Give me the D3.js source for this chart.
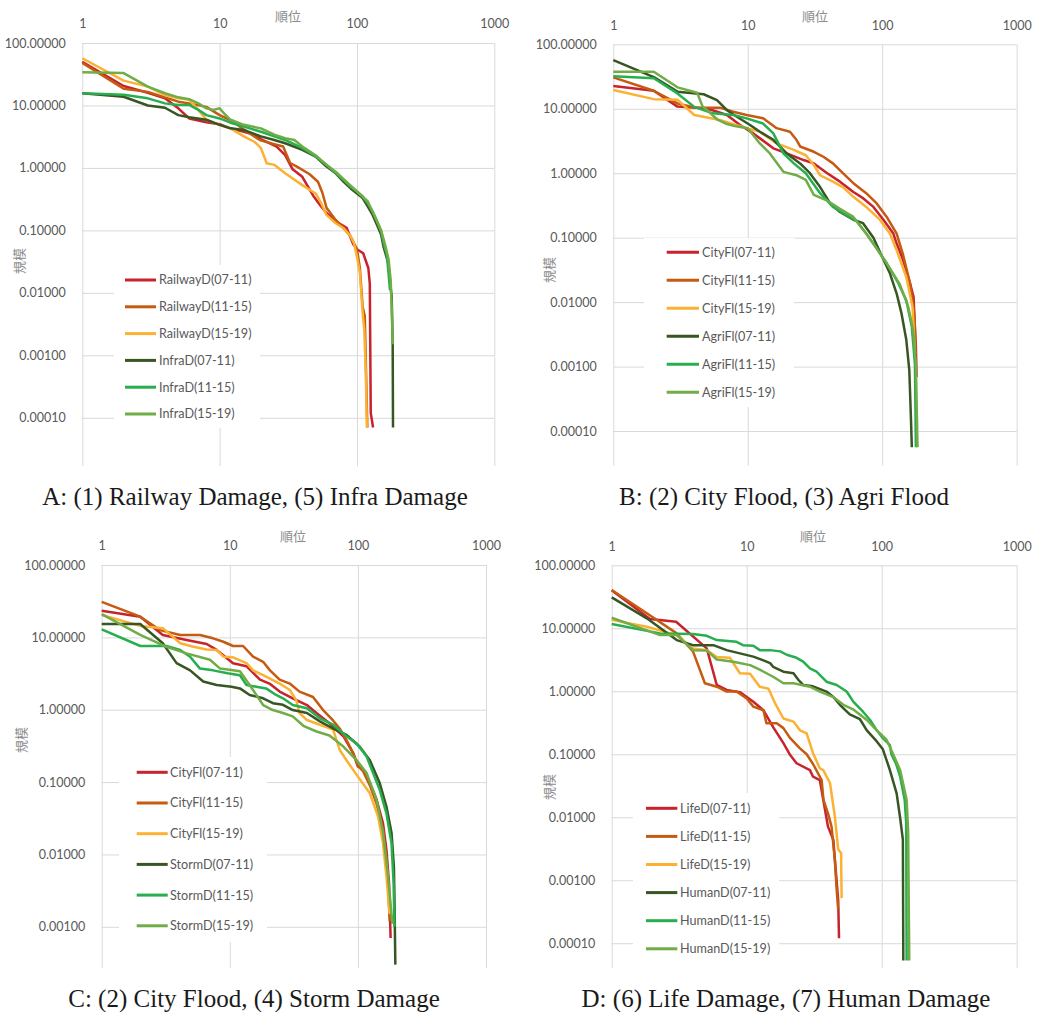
<!DOCTYPE html>
<html>
<head>
<meta charset="utf-8">
<script src="https://cdn.jsdelivr.net/npm/d3@7"></script>
<style>
body { margin: 0; background: #fff; }
svg text { font-family: Lato, "Noto Sans", sans-serif; }
</style>
</head>
<body>
<svg id="chart" width="1039" height="1012"></svg>
<script>
// rank-size curves, [rank, size] pairs

// A: railway / infra damage
var railwayD0711 = [[1,50],[2,20.5],[3,16],[4,13],[5,9],[6,6.2],[8,5.4],[10,5],[12,4.3],[15,3.8],[18,3.4],[20,2.9],[26,2.2],[30,1.6],[34,0.95],[40,0.72],[48,0.36],[55,0.24],[60,0.19],[70,0.14],[84,0.11],[94,0.06],[100,0.05],[111,0.043],[121,0.025],[124,0.014],[126,0.00012],[131,0.00007]];
var railwayD1115 = [[1,48],[2,18.5],[3,16.5],[4,13.5],[5,11.5],[6,10.8],[8,9.5],[10,7],[12.6,5.5],[15,4.1],[19.6,2.8],[25,2.4],[29,2.2],[32.6,1.2],[36.5,1.05],[45,0.8],[52,0.6],[56,0.4],[60,0.23],[70,0.147],[80,0.108],[90,0.08],[100,0.05],[105,0.025],[110,0.006],[114,0.0042],[119,0.00007]];
var railwayD1519 = [[1,57],[2,25],[3,20],[4,14.7],[5,13],[6,12.3],[7,8.5],[8,5.9],[10,4.9],[12,4.3],[15,3.2],[18,2.6],[20,2.07],[22,1.19],[25,1.12],[30,0.82],[40,0.53],[50,0.39],[55,0.27],[60,0.177],[70,0.13],[80,0.108],[90,0.08],[95,0.063],[100,0.038],[105,0.021],[110,0.0047],[113,0.0026],[116,0.00052],[118,0.00007]];
var infraD0711 = [[1,15.7],[2,13.8],[3,10],[4,9.2],[5,7],[6,6.5],[8,5.9],[10,4.9],[12,4.3],[15,4.06],[20,3.2],[25,2.8],[30,2.48],[40,1.94],[50,1.52],[60,1.05],[70,0.82],[80,0.6],[90,0.47],[100,0.39],[110,0.33],[120,0.24],[130,0.177],[140,0.122],[150,0.085],[156,0.055],[169,0.03],[176,0.012],[179,0.0087],[182,0.0015],[183,0.00007]];
var infraD1115 = [[1,15.7],[2,14.8],[3,13],[4,10.8],[5,10.2],[6,10.2],[7,8.5],[8,7],[10,6.2],[12,5.3],[15,4.6],[20,3.8],[25,3.2],[30,2.8],[40,2.07],[50,1.52],[60,1.12],[70,0.82],[80,0.64],[90,0.5],[100,0.42],[110,0.35],[120,0.27],[130,0.2],[140,0.14],[150,0.096],[156,0.065],[165,0.04],[170,0.02],[174,0.011]];
var infraD1519 = [[1,34],[2,33],[3,20],[4,15.7],[5,13.5],[6,12.6],[7,10.8],[8,9],[9,8.5],[10,9],[11,7.1],[12,5.9],[15,4.9],[20,4.3],[25,3.4],[30,3],[35,2.8],[40,2.2],[50,1.6],[60,1.12],[70,0.87],[80,0.66],[90,0.52],[100,0.42],[120,0.29],[140,0.14],[150,0.1],[160,0.06],[170,0.034],[176,0.016],[179,0.006],[182,0.0015]];

// B: city flood / agri flood
var cityFlB0711 = [[1,22.6],[2,19],[3,10.8],[5,10.1],[7,8],[8.75,5.6],[11,4.15],[15.5,2.43],[19.5,2.03],[26,1.6],[31,1.42],[39,1],[48.5,0.74],[61,0.51],[72,0.41],[86,0.3],[102,0.19],[121,0.116],[128,0.081],[143,0.045],[161,0.0195],[171,0.012],[174,0.0052],[178,0.002],[180,0.00069]];
var cityFlB1115 = [[1,30.7],[2,19],[3,12.1],[4,10.5],[6.2,10.4],[7.8,9],[9.8,8],[13,7.1],[16.4,5],[20.6,4.4],[23,3.3],[24.5,2.6],[31,2.15],[36.5,1.8],[43,1.42],[51,1],[61,0.7],[76,0.49],[91,0.34],[108,0.21],[128,0.116],[143,0.054],[161,0.0195],[174,0.006],[177,0.0016]];
var cityFlB1519 = [[1,19.5],[2,14.1],[3,13.8],[4,8],[6.2,6.7],[9.8,5],[12.3,4.4],[16.4,2.9],[22,2.3],[27,1.9],[31,1.34],[34.5,0.93],[43,0.74],[51,0.61],[61,0.43],[76,0.3],[96,0.19],[114,0.116],[128,0.064],[151,0.0245],[168,0.0085],[175,0.0016]];
var agriFl0711 = [[1,57],[2,31],[3,18.4],[4.7,16.8],[5.9,13.6],[7,9.5],[8.3,7.5],[10.4,5.6],[12.3,4.4],[15.5,3.3],[19.5,2.03],[24.5,1.42],[29,1],[34.5,0.61],[41,0.34],[48.5,0.25],[61,0.19],[72,0.168],[86,0.1],[100,0.05],[114,0.028],[128,0.0136],[139,0.0067],[151,0.0026],[159,0.00087],[163,0.00019],[166,0.000056]];
var agriFl1115 = [[1,32],[2,29.7],[3,17.3],[4,10.7],[5.5,8.5],[7.8,8],[9.8,7.1],[13,5.9],[15.5,4.15],[18.4,2.03],[22,1.42],[27,1],[34.5,0.49],[43,0.3],[54.5,0.224],[64.5,0.18],[76,0.116],[90,0.07],[108,0.04],[132,0.0195],[151,0.0107],[166,0.0041],[175,0.0011],[178,0.000056]];
var agriFl1519 = [[1,37.6],[2,37.6],[3,21.5],[4.2,17.7],[4.6,11],[6,6.7],[7,5.8],[8,5.4],[10,5],[12.3,2.9],[14.6,2.03],[18.4,1.05],[23,0.93],[27,0.79],[31,0.46],[38.6,0.38],[48.5,0.28],[61,0.21],[76,0.116],[90,0.07],[108,0.04],[135,0.019],[156,0.0085],[170,0.0036],[178,0.0011],[183,0.000056]];

// C: city flood / storm damage
var cityFlC0711 = [[1,23.4],[2,19.3],[3,10.8],[4.6,9.2],[6.6,8.1],[7.9,6.7],[10.6,4.4],[13.5,4],[17.2,2.6],[20.4,2.3],[24.5,1.78],[31,1.44],[40,1.16],[47.5,0.9],[60,0.65],[77,0.43],[92,0.25],[100,0.164],[110,0.148],[124,0.097],[140,0.057],[157,0.027],[167,0.0116],[175,0.004],[180,0.0007]];
var cityFlC1115 = [[1,31],[2,19.3],[2.85,12.6],[4.1,10.8],[5.85,10.8],[7.4,9.7],[8.9,8.7],[10.6,7.6],[12.7,7.6],[15.2,5.4],[18.2,4.6],[20.6,3.5],[24.5,2.6],[29.4,2.3],[35,1.78],[44.6,1.5],[53.5,0.99],[64,0.71],[72,0.55],[81.5,0.38],[92,0.25],[100,0.17],[110,0.14],[124,0.09],[140,0.05],[157,0.022],[167,0.009],[173,0.003],[177,0.0012]];
var cityFlC1519 = [[1,20.4],[2,14.4],[3,13.4],[4.1,8.3],[5.2,7.4],[6.6,6.8],[7.9,6.7],[8.9,5.4],[10.6,5.3],[13.5,4.4],[15.2,3.5],[18.2,3],[24.5,2.3],[29.4,1.87],[33,1.36],[35,0.9],[40,0.72],[50.5,0.62],[64,0.53],[72,0.28],[81.5,0.2],[100,0.119],[124,0.07],[144,0.033],[157,0.0144],[167,0.005],[177,0.0015]];
var stormD0711 = [[1,15.3],[2,15.3],[3,8.3],[3.84,4.4],[4.9,3.5],[6.2,2.45],[7.9,2.2],[10.3,2.08],[12,1.97],[14.3,1.6],[18.2,1.44],[21.7,1.23],[26,1.17],[31,0.99],[40,0.9],[50.5,0.69],[64,0.55],[81.5,0.45],[103,0.31],[124,0.2],[148,0.097],[167,0.046],[183,0.02],[191,0.0068],[193,0.0024],[196,0.0003]];
var stormD1115 = [[1,12.9],[2,7.6],[3.2,7.6],[4.1,6.7],[4.9,5.4],[5.85,3.7],[7.4,3.5],[9.6,3.2],[12,3],[13.5,2.2],[16.1,2.08],[19.2,1.97],[23,1.6],[26,1.44],[31,1.16],[40,1.05],[50.5,0.76],[64,0.62],[81.5,0.43],[98,0.34],[117,0.225],[148,0.078],[167,0.037],[183,0.0143],[190,0.004],[193,0.001]];
var stormD1519 = [[1,21],[2,10.8],[3.2,7.4],[4.6,6],[7,4.9],[8.4,3.7],[10.6,3.5],[12,3.4],[14.3,2.2],[18.2,1.16],[21.7,0.99],[26,0.9],[31,0.81],[37.5,0.6],[47.5,0.5],[60,0.44],[77,0.31],[98,0.2],[117,0.133],[140,0.057],[157,0.02],[171,0.0055],[186,0.0011]];

// D: life damage / human damage
var lifeD0711 = [[1,40],[1.92,14],[3,12.7],[5.06,4.8],[6,1.26],[7.1,1.05],[8.9,0.97],[11.2,0.68],[13.3,0.5],[15.7,0.27],[18.7,0.15],[21,0.097],[23.4,0.072],[29.4,0.056],[31,0.044],[34.8,0.039],[36.9,0.019],[40,0.0071],[43.8,0.0044],[45,0.0021],[47.6,0.00049],[48.3,0.00012]];
var lifeD1115 = [[1,40.6],[1.82,17.3],[3.03,8.3],[4,4.3],[4.9,1.34],[6,1.18],[7.1,0.99],[8.4,0.99],[10,0.77],[11.2,0.57],[13.3,0.5],[14,0.31],[16.7,0.31],[18.7,0.26],[21,0.18],[24.8,0.124],[27.8,0.1],[31,0.07],[35.9,0.039],[37,0.019],[40,0.0115],[42.5,0.0071],[45,0.0021],[46.4,0.0007],[47.6,0.00034]];
var lifeD1519 = [[1,13.6],[1.82,10.6],[3.03,7.8],[4,4.8],[5.06,4.5],[6,3.5],[7.5,3.4],[8.9,1.93],[10.6,1.9],[12.5,1.18],[14.5,1.1],[16.2,0.65],[18.7,0.37],[22.2,0.33],[24.8,0.24],[27.8,0.215],[31,0.104],[34.8,0.06],[36.9,0.056],[41.4,0.035],[45,0.0102],[47.6,0.0031],[50,0.0027],[50.5,0.00052]];
var humanD0711 = [[1,31],[1.82,14.4],[3.03,6.5],[4,5.4],[5.66,5.4],[7.1,4.5],[8.9,4],[11.2,3.55],[13.3,3.1],[14.9,2.8],[15.7,2.45],[18.7,2.05],[22.2,1.94],[24.2,1.51],[26.2,1.26],[31,1.2],[39,0.99],[43.8,0.81],[49,0.61],[58,0.43],[69,0.36],[77.6,0.24],[92,0.16],[102,0.12],[108.6,0.081],[115,0.056],[129,0.024],[136.6,0.0102],[143.5,0.0044],[144.6,0.000053]];
var humanD1115 = [[1,11.7],[2.28,8.3],[4,8.1],[5.06,7.6],[6,6.5],[8.4,6.1],[9.4,5.4],[11.2,5.3],[12.5,4.5],[14.9,4.5],[17.7,4.3],[19.8,3.8],[23.4,3.4],[26.2,2.95],[29.4,2.3],[32.9,2.05],[39,1.42],[46.4,1.26],[55,0.99],[61.8,0.68],[73,0.47],[82,0.35],[92,0.24],[102,0.18],[115,0.14],[118,0.1],[128,0.07],[137,0.044],[148,0.019],[152,0.008],[153,0.000053]];
var humanD1519 = [[1,14.7],[2.28,7.8],[3.03,7.8],[4,4.5],[5.06,4.45],[6,3.2],[7.95,2.95],[10.6,2.6],[12.5,2.2],[15.7,1.7],[18.7,1.34],[22.2,1.34],[29.4,1.18],[34.8,0.99],[43.8,0.81],[52,0.61],[62,0.51],[77.6,0.35],[92,0.24],[108.6,0.17],[121.7,0.1],[137,0.056],[153,0.019],[157,0.006],[160,0.000053]];

var xTickValues = [1, 10, 100, 1000];
var yTickValues = [100, 10, 1, 0.1, 0.01, 0.001, 0.0001];
var periods = ["07-11", "11-15", "15-19"];
var seriesColors = ["#C8232C", "#C55A11", "#FBB132", "#375623", "#27AE4F", "#70AD47"];

var panels = [
	{ caption: "A: (1) Railway Damage, (5) Infra Damage", names: ["RailwayD", "InfraD"],
	  series: [railwayD0711, railwayD1115, railwayD1519, infraD0711, infraD1115, infraD1519] },
	{ caption: "B: (2) City Flood, (3) Agri Flood", names: ["CityFl", "AgriFl"],
	  series: [cityFlB0711, cityFlB1115, cityFlB1519, agriFl0711, agriFl1115, agriFl1519] },
	{ caption: "C: (2) City Flood, (4) Storm Damage", names: ["CityFl", "StormD"],
	  series: [cityFlC0711, cityFlC1115, cityFlC1519, stormD0711, stormD1115, stormD1519] },
	{ caption: "D: (6) Life Damage, (7) Human Damage", names: ["LifeD", "HumanD"],
	  series: [lifeD0711, lifeD1115, lifeD1519, humanD0711, humanD1115, humanD1519] }
];

// pixel layout of each panel
var layouts = [
	{ x0: 82.3, x1: 494.3, yTop: 43, yBot: 466, yMin: 1.69e-5, lowTick: 0.0001,
	  xTitle: [288, 15], yTitle: [18, 261], cap: [255, 505],
	  legend: { x: 114, y: 265, w: 146, h: 163, first: 280, step: 26.8, l0: 125, l1: 156, tx: 159 } },
	{ x0: 613.3, x1: 1016.7, yTop: 44.3, yBot: 465.7, yMin: 2.9e-5, lowTick: 0.0001,
	  xTitle: [815, 15], yTitle: [548, 270], cap: [784, 505],
	  legend: { x: 644, y: 238, w: 150, h: 169, first: 252.3, step: 28, l0: 666.7, l1: 699, tx: 702 } },
	{ x0: 101.7, x1: 486, yTop: 565, yBot: 968.3, yMin: 2.67e-4, lowTick: 0.001,
	  xTitle: [293, 535], yTitle: [20, 740], cap: [254, 1006.5],
	  legend: { x: 119, y: 757, w: 148, h: 185, first: 772.3, step: 30.7, l0: 136.7, l1: 167.7, tx: 170 } },
	{ x0: 611.7, x1: 1016.7, yTop: 565.3, yBot: 968.3, yMin: 4.0e-5, lowTick: 0.0001,
	  xTitle: [813, 535], yTitle: [548, 787], cap: [786, 1006.5],
	  legend: { x: 633, y: 793, w: 146, h: 175, first: 808.3, step: 28.1, l0: 646, l1: 677.3, tx: 680 } }
];

var svg = d3.select("#chart");

function drawPanel(p, L) {
	var g = svg.append("g");
	var x = d3.scaleLog().domain([1, 1000]).range([L.x0, L.x1]);
	var y = d3.scaleLog().domain([L.yMin, 100]).range([L.yBot, L.yTop]);

	// x axis on top, ticks stretched into vertical gridlines
	var xa = g.append("g")
		.attr("transform", "translate(0," + L.yTop + ")")
		.call(d3.axisTop(x).tickValues(xTickValues).tickFormat(d3.format("d"))
			.tickSize(-(L.yBot - L.yTop)).tickPadding(14.8));
	var ya = g.append("g")
		.attr("transform", "translate(" + L.x0 + ",0)")
		.call(d3.axisLeft(y).tickValues(yTickValues.filter(function(t) { return t >= L.lowTick; }))
			.tickFormat(d3.format(".5f")).tickSize(-(L.x1 - L.x0)).tickPadding(16.5));

	[xa, ya].forEach(function(a) {
		a.select(".domain").remove();
		a.attr("font-family", null).attr("font-size", null);
		a.selectAll("line").attr("stroke", "#d9d9d9").attr("stroke-width", 1);
		a.selectAll("text").attr("fill", "#595959").style("font-size", "12.5px");
	});

	g.append("text")
		.attr("x", L.xTitle[0]).attr("y", L.xTitle[1])
		.attr("text-anchor", "middle").attr("dominant-baseline", "central")
		.style("font-family", "'Noto Sans CJK JP', sans-serif").style("font-size", "13px")
		.attr("fill", "#8c8c8c").text("順位");
	g.append("text")
		.attr("transform", "translate(" + L.yTitle[0] + "," + L.yTitle[1] + ") rotate(-90)")
		.attr("text-anchor", "middle").attr("dominant-baseline", "central")
		.style("font-family", "'Noto Sans CJK JP', sans-serif").style("font-size", "13px")
		.attr("fill", "#8c8c8c").text("規模");

	var line = d3.line()
		.x(function(d) { return x(d[0]); })
		.y(function(d) { return y(d[1]); });

	p.series.forEach(function(s, i) {
		g.append("path")
			.datum(s)
			.attr("d", line)
			.attr("fill", "none")
			.attr("stroke", seriesColors[i])
			.attr("stroke-width", 2.5)
			.attr("stroke-linejoin", "round");
	});

	// legend sits on a white box over the grid
	var lg = L.legend;
	g.append("rect")
		.attr("x", lg.x).attr("y", lg.y).attr("width", lg.w).attr("height", lg.h)
		.attr("fill", "#fff");
	p.series.forEach(function(s, i) {
		var ly = lg.first + i * lg.step;
		var label = p.names[Math.floor(i / 3)] + "(" + periods[i % 3] + ")";
		g.append("line")
			.attr("x1", lg.l0).attr("x2", lg.l1).attr("y1", ly).attr("y2", ly)
			.attr("stroke", seriesColors[i]).attr("stroke-width", 3);
		g.append("text")
			.attr("x", lg.tx).attr("y", ly).attr("dy", "0.35em")
			.style("font-size", "12.6px").attr("fill", "#595959")
			.text(label);
	});

	g.append("text")
		.attr("x", L.cap[0]).attr("y", L.cap[1])
		.attr("text-anchor", "middle")
		.style("font-family", "'Liberation Serif', 'Times New Roman', serif")
		.style("font-size", "25px").attr("fill", "#1a1a1a")
		.text(p.caption);
}

panels.forEach(function(p, i) {
	drawPanel(p, layouts[i]);
});
</script>
</body>
</html>
